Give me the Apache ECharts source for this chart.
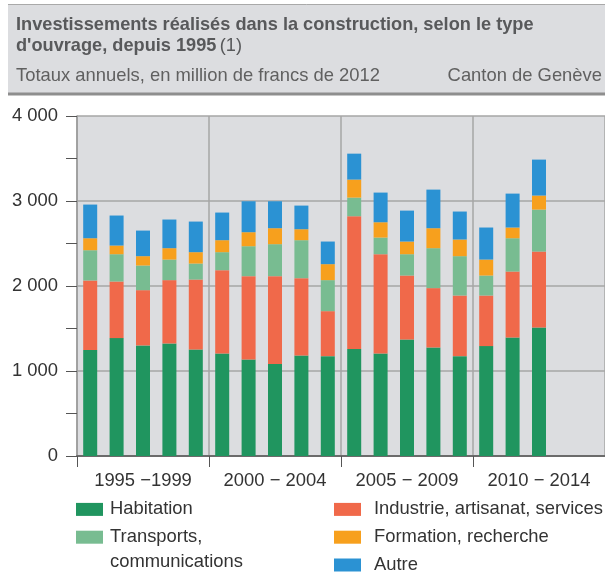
<!DOCTYPE html>
<html>
<head>
<meta charset="utf-8">
<script src="https://cdn.jsdelivr.net/npm/echarts@6/dist/echarts.min.js"></script>
<style>
html,body{margin:0;padding:0;background:#fff;}
#chart{width:605px;height:572px;}
</style>
</head>
<body>
<div id="chart"></div>
<script>
// ---- data ----
const years = ['1995','1996','1997','1998','1999','2000','2001','2002','2003','2004','2005','2006','2007','2008','2009','2010','2011','2012','2013','2014'];
const periodLabels = ['1995 \u22121999','2000 \u2212 2004','2005 \u2212 2009','2010 \u2212 2014'];
const yTicks = [0, 1000, 2000, 3000, 4000];
const habitation = [1246,1387,1301,1324,1254,1207,1136,1081,1183,1175,1258,1207,1371,1277,1175,1293,1395,1512];
const industrie  = [819,666,650,745,822,979,980,1035,909,529,1563,1167,752,698,713,595,775,893];
const transports = [356,321,290,242,188,212,352,376,447,365,219,196,251,470,463,235,392,494];
const formation  = [141,102,110,134,134,141,165,188,129,188,212,180,149,235,196,188,126,165];
const autre      = [396,353,301,337,360,325,364,317,278,266,305,349,364,454,329,377,399,423];

const names = ['Habitation','Industrie, artisanat, services','Transports, communications','Formation, recherche','Autre'];
const colors = ['#20955f','#f0694a','#78bc91','#f7a01d','#2b92d3'];
const values = [habitation, industrie, transports, formation, autre];

const FONT = "'Liberation Sans', Arial, sans-serif";
const FS = 18.4;
const TFS = 18.2;
const chart = echarts.init(document.getElementById('chart'), null, {renderer:'canvas'});

function fmt(v){ return String(v).replace(/\B(?=(\d{3})+(?!\d))/g, ' '); }

const option = {
  animation: false,
  textStyle: {fontFamily: FONT},
  grid: {left: 77, right: 0, top: 116, bottom: 116, show: true, backgroundColor: '#dcdde0', borderWidth: 0},
  xAxis: [
    {type: 'category', data: years, position: 'bottom', boundaryGap: true,
     axisLine: {show: false}, axisTick: {show: false}, axisLabel: {show: false}, splitLine: {show: false}},
    {type: 'category', data: periodLabels, position: 'bottom', boundaryGap: true,
     axisLine: {show: true, lineStyle: {color: '#6b6b6b', width: 2}},
     axisTick: {show: true, interval: 0, length: 11, lineStyle: {color: '#555', width: 1}},
     axisLabel: {show: true, interval: 0, hideOverlap: false, margin: 16, fontSize: FS, color: '#333', fontFamily: FONT},
     splitLine: {show: true, interval: 0, lineStyle: {color: '#a6a6a6', width: 1.5}}}
  ],
  yAxis: {
    type: 'value', min: yTicks[0], max: yTicks[yTicks.length-1], interval: 1000,
    axisLine: {show: true, lineStyle: {color: '#9a9a9a', width: 1.5}},
    axisTick: {show: true, length: 11, lineStyle: {color: '#555', width: 1}},
    minorTick: {show: true, splitNumber: 2, length: 11, lineStyle: {color: '#555', width: 1}},
    axisLabel: {margin: 19, fontSize: FS, color: '#333', fontFamily: FONT, formatter: fmt},
    splitLine: {show: true, lineStyle: {color: '#a6a6a6', width: 1.5}}
  },
  legend: [
    {data: [names[0], names[2]], orient: 'vertical', left: 76, top: 495.5, height: 100, padding: 0,
     itemWidth: 27, itemHeight: 13, itemGap: 0,
     icon: 'rect', selectedMode: false,
     formatter: n => n === names[2] ? 'Transports,' : n,
     textStyle: {fontSize: FS, color: '#333', lineHeight: 27.8, padding: [0,0,0,2], fontFamily: FONT}},
    {data: [names[1], names[3], names[4]], orient: 'vertical', left: 334, top: 495.5, height: 100, padding: 0,
     itemWidth: 27, itemHeight: 13, itemGap: 0,
     icon: 'rect', selectedMode: false,
     textStyle: {fontSize: FS, color: '#333', lineHeight: 27.8, padding: [0,0,0,8], fontFamily: FONT}}
  ],
  graphic: [
    {type: 'rect', shape: {x: 8, y: 4, width: 597, height: 90}, style: {fill: '#dcdde0'}, silent: true},
    {type: 'line', shape: {x1: 8, y1: 4.5, x2: 605, y2: 4.5}, style: {stroke: '#a9a9a9', lineWidth: 1}, silent: true},
    {type: 'line', shape: {x1: 8, y1: 94, x2: 605, y2: 94}, style: {stroke: '#8e8e8e', lineWidth: 3}, silent: true},
    {type: 'text', x: 16, y: 25, silent: true,
     style: {text: 'Investissements réalisés dans la construction, selon le type', font: 'bold ' + TFS + 'px ' + FONT, fill: '#58595b', verticalAlign: 'middle'}},
    {type: 'text', x: 16, y: 45.5, silent: true,
     style: {text: "{b|d'ouvrage, depuis 1995} {n|(1)}", verticalAlign: 'middle', fill: '#58595b',
       rich: {b: {fontFamily: FONT, fontSize: TFS, fontWeight: 'bold', fill: '#58595b'},
              n: {fontFamily: FONT, fontSize: TFS, fontWeight: 'normal', fill: '#58595b'}}}},
    {type: 'text', x: 16, y: 76, silent: true,
     style: {text: 'Totaux annuels, en million de francs de 2012', font: FS + 'px ' + FONT, fill: '#606060', verticalAlign: 'middle'}},
    {type: 'text', x: 602, y: 76, silent: true,
     style: {text: 'Canton de Genève', font: FS + 'px ' + FONT, fill: '#606060', verticalAlign: 'middle', align: 'right'}},
    {type: 'text', x: 110, y: 562, silent: true,
     style: {text: 'communications', font: FS + 'px ' + FONT, fill: '#333', verticalAlign: 'middle'}}
  ],
  series: names.map((n, i) => ({
    name: n, type: 'bar', stack: 'total', xAxisIndex: 0, barWidth: 14,
    itemStyle: {color: colors[i]}, data: values[i]
  }))
};
chart.setOption(option);
</script>
</body>
</html>
